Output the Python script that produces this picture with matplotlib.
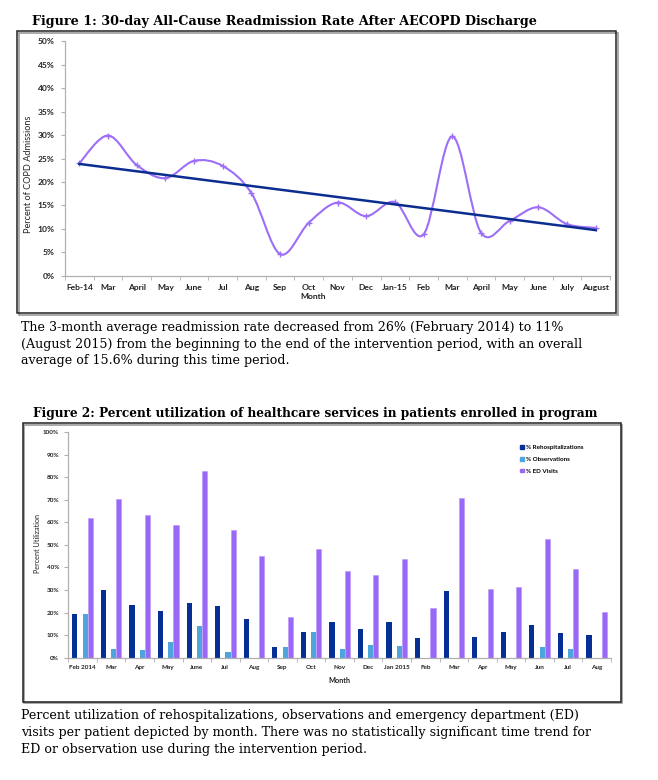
import numpy as np
import matplotlib
matplotlib.use("Agg")
import matplotlib.pyplot as plt
from matplotlib.path import Path
from matplotlib.patches import PathPatch, Rectangle, Patch

W, H = 658, 780

# ---- Figure 1 data: 30-day readmission rate (%) ----
months1 = ["Feb-14", "Mar", "April", "May", "June", "Jul", "Aug", "Sep", "Oct",
           "Nov", "Dec", "Jan-15", "Feb", "Mar", "April", "May", "June", "July",
           "August"]
readmit = [24.0, 29.9, 23.6, 20.8, 24.5, 23.4, 17.6, 4.6, 11.3, 15.6, 12.7,
           15.7, 8.8, 29.7, 9.2, 11.7, 14.6, 11.0, 10.2]
yticks1 = [0, 5, 10, 15, 20, 25, 30, 35, 40, 45, 50]

# ---- Figure 2 data: percent utilization ----
months2 = ["Feb 2014", "Mar", "Apr", "May", "June", "Jul", "Aug", "Sep", "Oct",
           "Nov", "Dec", "Jan 2015", "Feb", "Mar", "Apr", "May", "Jun", "Jul",
           "Aug"]
rehosp = [19.2, 29.8, 23.3, 20.8, 24.2, 23.0, 17.1, 4.6, 11.2, 15.7, 12.7,
          15.7, 8.9, 29.4, 9.0, 11.5, 14.3, 10.8, 10.0]
observ = [19.2, 3.7, 3.4, 6.9, 13.9, 2.5, 0, 4.6, 11.2, 4.0, 5.5, 5.2, 0, 0,
          0, 0, 4.7, 3.7, 0]
ed_visits = [62.0, 70.5, 63.2, 58.6, 82.7, 56.4, 45.1, 18.2, 48.2, 38.4, 36.5,
             43.9, 21.9, 70.9, 30.3, 31.5, 52.6, 39.4, 20.2]
yticks2 = [0, 10, 20, 30, 40, 50, 60, 70, 80, 90, 100]

title1 = "Figure 1: 30-day All-Cause Readmission Rate After AECOPD Discharge"
title2 = "Figure 2: Percent utilization of healthcare services in patients enrolled in program"
caption1 = ["The 3-month average readmission rate decreased from 26% (February 2014) to 11%",
            "(August 2015) from the beginning to the end of the intervention period, with an overall",
            "average of 15.6% during this time period."]
caption2 = ["Percent utilization of rehospitalizations, observations and emergency department (ED)",
            "visits per patient depicted by month. There was no statistically significant time trend for",
            "ED or observation use during the intervention period."]

PURPLE = "#9d6ef7"
NAVY = "#0b2d90"
BLUE_DARK = "#052f95"
BLUE_LIGHT = "#4ea5dc"
ED_PURPLE = "#9a68f6"
AXIS_GRAY = "#b0b0b0"
TICK_FONT = "Lato"


def fax(x0, y0, x1, y1):
    """pixel box (top-left origin) -> figure fraction rect"""
    return [x0 / W, 1 - y1 / H, (x1 - x0) / W, (y1 - y0) / H]


def frame(x0, y0, x1, y1):
    shadow = Rectangle((x0 / W + 1.5 / W, 1 - y1 / H - 1.5 / H), (x1 - x0) / W, (y1 - y0) / H,
                       transform=fig.transFigure, fill=False, ec="#9a9a9a", lw=1.2)
    box = Rectangle((x0 / W, 1 - y1 / H), (x1 - x0) / W, (y1 - y0) / H,
                    transform=fig.transFigure, fill=False, ec="#222222", lw=1.1)
    fig.add_artist(shadow)
    fig.add_artist(box)


def fitted_size(s, target_w, **kw):
    t = fig.text(0, 0, s, fontsize=10, **kw)
    bb = t.get_window_extent(fig.canvas.get_renderer())
    t.remove()
    return 10 * target_w / bb.width


def smooth_path(xs, ys):
    # Excel-style smoothed line through the points (cubic bezier segments)
    pts = np.column_stack([xs, ys]).astype(float)
    n = len(pts)
    verts = [pts[0]]
    codes = [Path.MOVETO]
    for i in range(n - 1):
        p_prev = pts[i - 1] if i > 0 else pts[i]
        p_next2 = pts[i + 2] if i + 2 < n else pts[i + 1]
        c1 = pts[i] + (pts[i + 1] - p_prev) / 6
        c2 = pts[i + 1] - (p_next2 - pts[i]) / 6
        verts += [c1, c2, pts[i + 1]]
        codes += [Path.CURVE4] * 3
    return Path(verts, codes)


def style_axis(ax, labels, yticks, fs, ypad, xpad):
    for side in ("top", "right"):
        ax.spines[side].set_visible(False)
    for side in ("left", "bottom"):
        ax.spines[side].set_color(AXIS_GRAY)
        ax.spines[side].set_linewidth(0.9)
    n = len(labels)
    ax.set_xlim(-0.5, n - 0.5)
    ax.set_xticks(range(n))
    ax.set_xticklabels(labels, fontsize=fs, fontweight="bold", family=TICK_FONT, color="#222222")
    ax.set_xticks(np.arange(-0.5, n, 1.0), minor=True)
    ax.tick_params(axis="x", which="major", length=0, pad=xpad)
    ax.tick_params(axis="x", which="minor", length=3, color=AXIS_GRAY, direction="out")
    ax.set_yticks(yticks)
    ax.set_yticklabels([f"{v}%" for v in yticks], fontsize=fs, fontweight="bold",
                       family=TICK_FONT, color="#222222")
    ax.tick_params(axis="y", length=3, color=AXIS_GRAY, pad=ypad)


fig = plt.figure(figsize=(W / 100, H / 100), dpi=100)

# ---------------- Figure 1 ----------------
s_title = fitted_size(title1, 506, family="DejaVu Serif", fontweight="bold")
fig.text(32 / W, 1 - 24.5 / H, title1, fontsize=s_title, family="DejaVu Serif",
         fontweight="bold", va="baseline")
frame(17, 31, 616, 313)

ax1 = fig.add_axes(fax(65, 41.3, 610, 275.7))
x1 = np.arange(len(readmit))
ax1.add_patch(PathPatch(smooth_path(x1, readmit), fill=False, ec=PURPLE, lw=1.5, zorder=2))
ax1.plot(x1, readmit, ls="none", marker="+", ms=4, mew=1, color=PURPLE, zorder=3)
coef = np.polyfit(x1, readmit, 1)
ax1.plot(x1, np.polyval(coef, x1), color=NAVY, lw=1.8, zorder=4)
ax1.set_ylim(0, 50)
style_axis(ax1, months1, yticks1, 6.1, 4.5, 6.3)
ax1.set_ylabel("Percent of COPD Admissions", fontsize=6.6, family=TICK_FONT, color="#222222",
               va="center")
ax1.yaxis.set_label_coords(-36 / 545, 0.434)
ax1.set_xlabel("Month", fontsize=6.1, fontweight="bold", family=TICK_FONT, color="#222222", va="center")
ax1.xaxis.set_label_coords(0.455, -20.3 / 234.4)

s_cap = fitted_size(caption1[0], 544, family="DejaVu Serif")
for i, line in enumerate(caption1):
    fig.text(21 / W, 1 - (331 + i * 16.6) / H, line, fontsize=s_cap, family="DejaVu Serif",
             va="baseline")

# ---------------- Figure 2 ----------------
s_title2 = fitted_size(title2, 565, family="DejaVu Serif", fontweight="bold")
fig.text(33 / W, 1 - 416.5 / H, title2, fontsize=s_title2, family="DejaVu Serif",
         fontweight="bold", va="baseline")
frame(22.7, 423, 620.7, 701.7)

ax2 = fig.add_axes(fax(68.3, 432, 611, 657.7))
x2 = np.arange(len(months2))
bw = 0.18
ax2.bar(x2 - 0.27, rehosp, bw, color=BLUE_DARK, zorder=2)
ax2.bar(x2 + 0.09, observ, bw, color=BLUE_LIGHT, zorder=2)
ax2.bar(x2 + 0.27, ed_visits, bw, color=ED_PURPLE, ec="#b795fa", lw=0.4, zorder=2)
ax2.set_ylim(0, 100)
style_axis(ax2, months2, yticks2, 4.6, 3.6, 5.6)
ax2.set_ylabel("Percent Utilization", fontsize=5.2, family=TICK_FONT, color="#222222", va="center")
ax2.yaxis.set_label_coords(-30.3 / 542.7, 0.506)
ax2.set_xlabel("Month", fontsize=5.2, fontweight="bold", family=TICK_FONT, color="#222222", va="center")
ax2.xaxis.set_label_coords(0.5, -22.3 / 225.7)

handles = [Patch(color=BLUE_DARK, label="% Rehospitalizations"),
           Patch(color=BLUE_LIGHT, label="% Observations"),
           Patch(color=ED_PURPLE, label="% ED Visits")]
ax2.legend(handles=handles, loc="upper left", bbox_to_anchor=(520 / W, 1 - 445 / H),
           bbox_transform=fig.transFigure, frameon=False, borderpad=0, borderaxespad=0,
           handlelength=0.6, handleheight=0.6, handletextpad=0.4, labelspacing=1.05,
           prop={"family": TICK_FONT, "weight": "bold", "size": 4.5})

s_cap2 = fitted_size(caption2[0], 556, family="DejaVu Serif")
for i, line in enumerate(caption2):
    fig.text(21 / W, 1 - (719.3 + i * 16.7) / H, line, fontsize=s_cap2, family="DejaVu Serif",
             va="baseline")

fig.savefig("out.png", dpi=100)
